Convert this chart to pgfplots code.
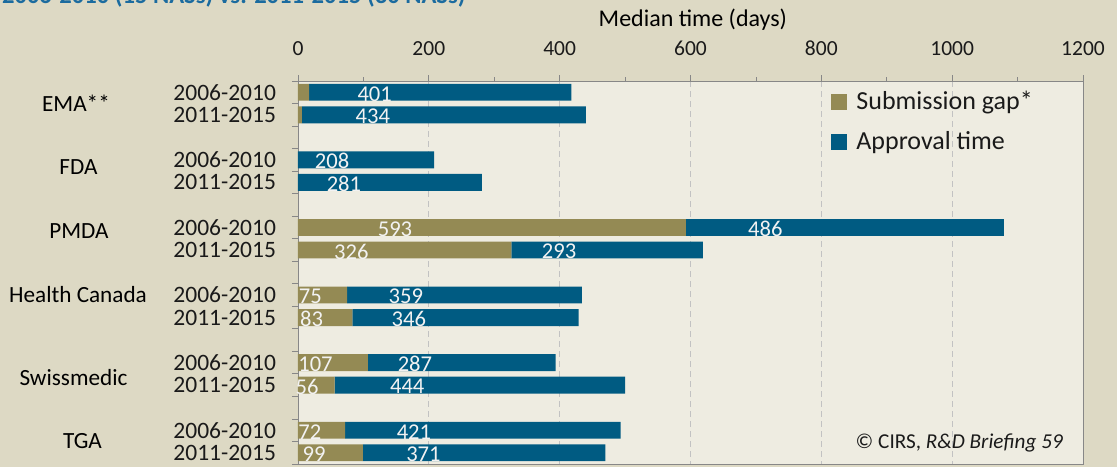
\documentclass[border=0pt]{standalone}
\usepackage{fontspec}
\setmainfont{Carlito}
\usepackage{pgfplots}
\usepackage{pgfplotstable}
\pgfplotsset{compat=1.18}

\definecolor{outerbg}{HTML}{DDD9C4}
\definecolor{plotbg}{HTML}{EEECE1}
\definecolor{gapc}{HTML}{948A54}
\definecolor{apprc}{HTML}{005B82}
\definecolor{titlec}{HTML}{1B6B9F}
\definecolor{axisc}{HTML}{878787}
\definecolor{gridc}{HTML}{C2C2C2}
\definecolor{lblc}{HTML}{F2F2F2}
\definecolor{txtc}{HTML}{1A1A1A}

% pos: row of the bar (gaps between agencies at 2, 5, 8, 11, 14)
\pgfplotstableread{
pos gap appr
0   17  401
1   6   434
3   0   208
4   0   281
6   593 486
7   326 293
9   75  359
10  83  346
12  107 287
13  56  444
15  72  421
16  99  371
}\medtimes

\begin{document}
\begin{tikzpicture}
\useasboundingbox (-149pt,-1.5pt) rectangle (409.5pt,232pt);
\clip (-149pt,-1.5pt) rectangle (409.5pt,232pt);
\fill[outerbg] (-149pt,-1.5pt) rectangle (409.5pt,232pt);

\node[anchor=base west, text=titlec, font=\bfseries\fontsize{12.3}{14}\selectfont]
  at (-151.5pt,230pt) {2006-2010 (15 NASs) vs. 2011-2015 (30 NASs)};

\begin{axis}[
    at={(0pt,0pt)}, anchor=south west,
    scale only axis,
    width=392.5pt, height=191.5pt,
    xbar stacked,
    bar width=0.75,
    y dir=reverse,
    xmin=0, xmax=1200,
    ymin=-0.5, ymax=16.5,
    axis background/.style={fill=plotbg},
    axis line style={axisc},
    every tick/.style={axisc},
    tick align=outside,
    major tick length=3pt,
    minor tick length=2pt,
    xtick={0,200,...,1200},
    minor x tick num=1,
    xtick pos=right, xticklabel pos=right,
    ytick pos=left,
    xmajorgrids,
    grid style={gridc, dash pattern=on 3pt off 2pt},
    ytick={-0.5,0.5,...,16.5},
    yticklabels={},
    extra y ticks={0,1,3,4,6,7,9,10,12,13,15,16},
    extra y tick labels={2006-2010,2011-2015,2006-2010,2011-2015,2006-2010,2011-2015,
                         2006-2010,2011-2015,2006-2010,2011-2015,2006-2010,2011-2015},
    extra y tick style={major tick length=0pt, grid=none,
        yticklabel style={xshift=-7.5pt, text=txtc, font=\fontsize{11.75}{13}\selectfont}},
    /pgf/number format/assume math mode=true,
    /pgf/number format/1000 sep={},
    xticklabel style={text=txtc, font=\fontsize{10.75}{12}\selectfont, yshift=6pt},
    xlabel={Median time (days)},
    x label style={at={(axis description cs:0.503,1)}, anchor=center, yshift=30.5pt,
        text=black, font=\fontsize{12}{14}\selectfont},
    legend style={at={(axis description cs:0.679,0.985)}, anchor=north west,
        draw=none, fill=none, font=\fontsize{13}{15}\selectfont,
        row sep=5.5pt, inner sep=0pt, text=txtc},
    legend cell align=left,
    legend image code/.code={\fill[#1] (0pt,-4pt) rectangle (8pt,4pt); \path (10.5pt,0pt);},
    nodes near coords={\ifdim\rawv pt>30pt \pgfmathprintnumber{\rawv}\fi},
    every node near coord/.append style={anchor=center, text=lblc,
        font=\fontsize{11.3}{13}\selectfont, xshift={-\rawv*0.081771pt}, yshift=-0.75pt},
]
\addplot[fill=gapc, draw=none, visualization depends on={\thisrow{gap} \as \rawv}]
    table[x=gap, y=pos] {\medtimes};
\addlegendentry{Submission gap*}
\addplot[fill=apprc, draw=none, visualization depends on={\thisrow{appr} \as \rawv}]
    table[x=appr, y=pos] {\medtimes};
\addlegendentry{Approval time}
\end{axis}

\begin{scope}[font=\fontsize{11.6}{13}\selectfont, text=black]
\node at (-111pt,180.5pt) {EMA**};
\node at (-109.75pt,148.5pt) {FDA};
\node at (-109.5pt,116.5pt) {PMDA};
\node at (-110pt,84.5pt) {Health Canada};
\node at (-112.25pt,43pt) {Swissmedic};
\node at (-107.75pt,11.5pt) {TGA};
\end{scope}

\node[anchor=base east, text=txtc, font=\fontsize{10.6}{12}\selectfont]
  at (386pt,8pt) {\textcopyright{} CIRS, \textit{R\&D Briefing 59}};
\end{tikzpicture}
\end{document}
